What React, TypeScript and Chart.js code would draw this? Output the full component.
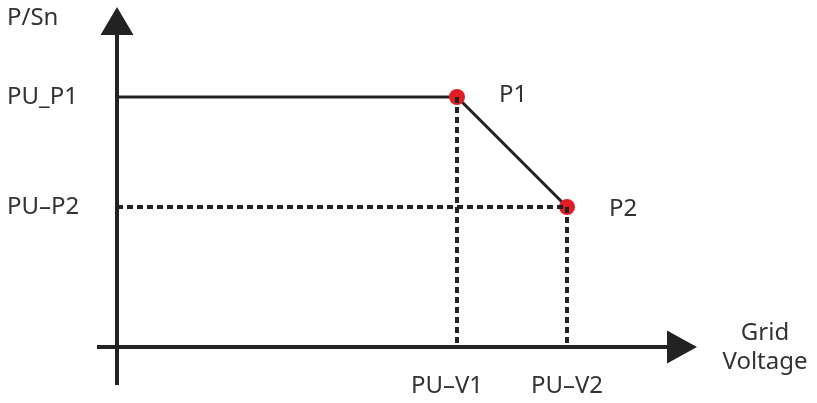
import React, { useEffect, useRef } from "react";
import { Chart, registerables } from "chart.js";

Chart.register(...registerables);

// Characteristic points (arbitrary per-unit schematic values)
const pointNames = ["P1", "P2"];
const voltageValues = [3.4, 4.5]; // PU-V1, PU-V2
const powerValues = [2.5, 1.4]; // PU_P1, PU-P2
const xTickLabels = ["PU–V1", "PU–V2"];
const yTickLabels = ["PU_P1", "PU–P2"];
const yAxisTitle = "P/Sn";
const xAxisTitle = ["Grid", "Voltage"];
const xAxisExtent = [-0.2, 5.8];
const yAxisExtent = [-0.38, 3.4];

const TEXT = "#333333";
const LINE = "#222222";
const RED = "#e21d26";
const FONT = '24px "Noto Sans", sans-serif';

const axesPlugin = {
  id: "axesPlugin",
  beforeDatasetsDraw(chart: any) {
    const ctx = chart.ctx;
    const xs = chart.scales.x;
    const ys = chart.scales.y;
    const x0 = xs.getPixelForValue(0);
    const y0 = ys.getPixelForValue(0);
    const xL = xs.getPixelForValue(xAxisExtent[0]);
    const xR = xs.getPixelForValue(xAxisExtent[1]);
    const yB = ys.getPixelForValue(yAxisExtent[0]);
    const yT = ys.getPixelForValue(yAxisExtent[1]);
    ctx.save();
    ctx.strokeStyle = LINE;
    ctx.fillStyle = LINE;
    ctx.lineWidth = 4;
    // y axis
    ctx.beginPath();
    ctx.moveTo(x0, yB);
    ctx.lineTo(x0, yT + 20);
    ctx.stroke();
    ctx.beginPath();
    ctx.moveTo(x0, yT);
    ctx.lineTo(x0 - 16.5, yT + 28);
    ctx.lineTo(x0 + 16.5, yT + 28);
    ctx.closePath();
    ctx.fill();
    // x axis
    ctx.beginPath();
    ctx.moveTo(xL, y0);
    ctx.lineTo(xR - 20, y0);
    ctx.stroke();
    ctx.beginPath();
    ctx.moveTo(xR, y0);
    ctx.lineTo(xR - 30, y0 - 16.5);
    ctx.lineTo(xR - 30, y0 + 16.5);
    ctx.closePath();
    ctx.fill();
    ctx.restore();
  },
  afterDraw(chart: any) {
    const ctx = chart.ctx;
    const xs = chart.scales.x;
    const ys = chart.scales.y;
    const y0 = ys.getPixelForValue(0);
    const xR = xs.getPixelForValue(xAxisExtent[1]);
    const yT = ys.getPixelForValue(yAxisExtent[1]);
    ctx.save();
    ctx.fillStyle = TEXT;
    ctx.font = FONT;
    ctx.textBaseline = "middle";
    // y tick labels
    ctx.textAlign = "left";
    yTickLabels.forEach((t, i) => {
      ctx.fillText(t, 7, ys.getPixelForValue(powerValues[i]));
    });
    ctx.fillText(yAxisTitle, 7, yT + 11);
    // point labels
    pointNames.forEach((t, i) => {
      ctx.fillText(t, xs.getPixelForValue(voltageValues[i]) + 42, ys.getPixelForValue(powerValues[i]) + (i === 0 ? -2 : 2));
    });
    // x tick labels
    ctx.textAlign = "center";
    xTickLabels.forEach((t, i) => {
      ctx.fillText(t, xs.getPixelForValue(voltageValues[i]) - (i === 0 ? 10 : 0), y0 + 39);
    });
    // x axis title
    ctx.fillText(xAxisTitle[0], xR + 68, y0 - 14);
    ctx.fillText(xAxisTitle[1], xR + 68, y0 + 15);
    ctx.restore();
  },
};

export default function App() {
  const ref = useRef<HTMLCanvasElement>(null);
  useEffect(() => {
    if (!ref.current) return;
    const dashStyle = {
      borderColor: LINE,
      borderWidth: 4,
      borderDash: [6, 4],
      pointRadius: 0,
      showLine: true,
      fill: false,
      tension: 0,
    };
    const chart = new Chart(ref.current, {
      type: "scatter",
      data: {
        datasets: [
          {
            ...dashStyle,
            data: [
              { x: voltageValues[0], y: powerValues[0] },
              { x: voltageValues[0], y: 0 },
            ],
          },
          {
            ...dashStyle,
            data: [
              { x: voltageValues[1], y: powerValues[1] },
              { x: voltageValues[1], y: 0 },
            ],
          },
          {
            ...dashStyle,
            data: [
              { x: 0, y: powerValues[1] },
              { x: voltageValues[1], y: powerValues[1] },
            ],
          },
          {
            borderColor: LINE,
            borderWidth: 3,
            showLine: true,
            fill: false,
            tension: 0,
            pointRadius: [0, 8, 8],
            pointBackgroundColor: RED,
            pointBorderColor: RED,
            pointBorderWidth: 0,
            data: [
              { x: 0, y: powerValues[0] },
              { x: voltageValues[0], y: powerValues[0] },
              { x: voltageValues[1], y: powerValues[1] },
            ],
          },
        ],
      },
      options: {
        animation: false,
        responsive: false,
        layout: { padding: 0, autoPadding: false },
        scales: {
          x: { type: "linear", display: false, min: -1.17, max: 7.0 },
          y: { type: "linear", display: false, min: -0.56, max: 3.47 },
        },
        plugins: { legend: { display: false }, tooltip: { enabled: false } },
      },
      plugins: [axesPlugin],
    } as any);
    return () => chart.destroy();
  }, []);
  return (
    <div style={{ position: "fixed", left: 0, top: 0, width: 817, height: 403, background: "#fff" }}>
      <canvas ref={ref} width={817} height={403} />
    </div>
  );
}
